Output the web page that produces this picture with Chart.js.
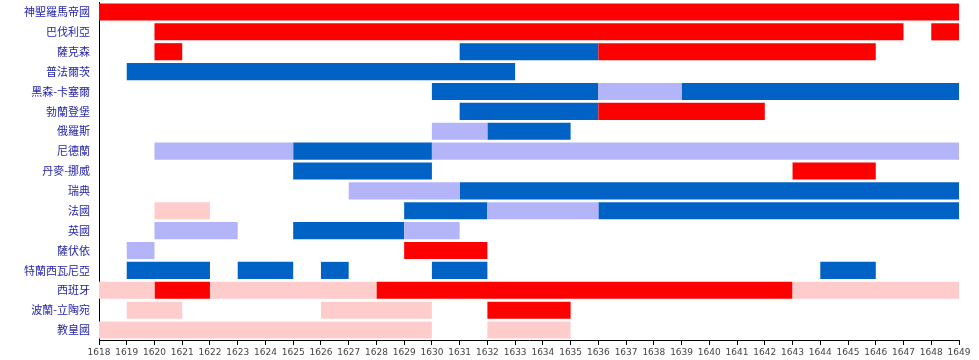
<!DOCTYPE html>
<html>
<head>
<meta charset="utf-8">
<script src="https://cdn.jsdelivr.net/npm/chart.js@4/dist/chart.umd.min.js"></script>
<style>
  html, body { margin: 0; padding: 0; background: #fff; }
  #wrap { width: 979px; height: 360px; }
</style>
</head>
<body>
<div id="wrap"><canvas id="war-chart"></canvas></div>
<script>
// Participants (rows, top to bottom)
const countries = [
    '神聖羅馬帝國', '巴伐利亞', '薩克森', '普法爾茨', '黑森-卡塞爾', '勃蘭登堡',
    '俄羅斯', '尼德蘭', '丹麥-挪威', '瑞典', '法國', '英國', '薩伏依',
    '特蘭西瓦尼亞', '西班牙', '波蘭-立陶宛', '教皇國'
];

// Year range / ticks
const firstYear = 1618;
const lastYear = 1649;

// [country, from, to]
const imperialWar = [
    ['神聖羅馬帝國', 1618, 1649],
    ['巴伐利亞', 1620, 1647],
    ['巴伐利亞', 1648, 1649],
    ['薩克森', 1620, 1621],
    ['薩克森', 1636, 1646],
    ['勃蘭登堡', 1636, 1642],
    ['丹麥-挪威', 1643, 1646],
    ['薩伏依', 1629, 1632],
    ['西班牙', 1620, 1622],
    ['西班牙', 1628, 1643],
    ['波蘭-立陶宛', 1632, 1635]
];
const imperialSupport = [
    ['法國', 1620, 1622],
    ['西班牙', 1618, 1620],
    ['西班牙', 1622, 1628],
    ['西班牙', 1643, 1649],
    ['波蘭-立陶宛', 1619, 1621],
    ['波蘭-立陶宛', 1626, 1630],
    ['教皇國', 1618, 1630],
    ['教皇國', 1632, 1635]
];
const oppositionWar = [
    ['薩克森', 1631, 1636],
    ['普法爾茨', 1619, 1633],
    ['黑森-卡塞爾', 1630, 1636],
    ['黑森-卡塞爾', 1639, 1649],
    ['勃蘭登堡', 1631, 1636],
    ['俄羅斯', 1632, 1635],
    ['尼德蘭', 1625, 1630],
    ['丹麥-挪威', 1625, 1630],
    ['瑞典', 1631, 1649],
    ['法國', 1629, 1632],
    ['法國', 1636, 1649],
    ['英國', 1625, 1629],
    ['特蘭西瓦尼亞', 1619, 1622],
    ['特蘭西瓦尼亞', 1623, 1625],
    ['特蘭西瓦尼亞', 1626, 1627],
    ['特蘭西瓦尼亞', 1630, 1632],
    ['特蘭西瓦尼亞', 1644, 1646]
];
const oppositionSupport = [
    ['黑森-卡塞爾', 1636, 1639],
    ['俄羅斯', 1630, 1632],
    ['尼德蘭', 1620, 1625],
    ['尼德蘭', 1630, 1649],
    ['瑞典', 1627, 1631],
    ['法國', 1632, 1636],
    ['英國', 1620, 1623],
    ['英國', 1629, 1631],
    ['薩伏依', 1619, 1620]
];

// turn [country, from, to] into floating bar points
function toPoints(rows) {
    return rows.map(r => ({ y: r[0], x: [r[1], r[2]] }));
}

function makeSet(label, rows, color) {
    return {
        label: label,
        data: toPoints(rows),
        backgroundColor: color,
        borderWidth: 0,
        grouped: false,
        categoryPercentage: 1,
        barPercentage: 0.86
    };
}

const ctx = document.getElementById('war-chart').getContext('2d');

new Chart(ctx, {
    type: 'bar',
    data: {
        labels: countries,
        datasets: [
            makeSet('imperial support', imperialSupport, '#ffcccc'),
            makeSet('opposition support', oppositionSupport, '#b4b4f8'),
            makeSet('imperial', imperialWar, '#ff0000'),
            makeSet('opposition', oppositionWar, '#0062c4')
        ]
    },
    options: {
        indexAxis: 'y',
        responsive: true,
        maintainAspectRatio: false,
        animation: false,
        layout: { padding: { top: 2, right: 20, left: 0, bottom: 0 } },
        plugins: {
            legend: { display: false },
            tooltip: { enabled: false }
        },
        scales: {
            x: {
                type: 'linear',
                min: firstYear,
                max: lastYear,
                grid: { display: true, drawOnChartArea: false, drawTicks: true, tickLength: 5, color: '#000' },
                border: { display: true, color: '#000', width: 1 },
                ticks: {
                    stepSize: 1,
                    autoSkip: false,
                    maxRotation: 0,
                    padding: 2,
                    color: '#444',
                    font: { family: 'DejaVu Sans', size: 9 },
                    callback: v => String(v)
                },
                afterFit: s => { s.height = 20; }
            },
            y: {
                type: 'category',
                offset: true,
                grid: { display: false, drawTicks: false },
                border: { display: true, color: '#000', width: 1 },
                ticks: {
                    padding: 9,
                    color: '#1e1ea8',
                    font: { family: '"Noto Sans CJK TC", "Noto Sans CJK SC", sans-serif', size: 11 }
                },
                afterFit: s => {
                    s.width = 99;
                    s.paddingTop = 0;
                    s.paddingBottom = 0;
                }
            }
        }
    }
});
</script>
</body>
</html>
